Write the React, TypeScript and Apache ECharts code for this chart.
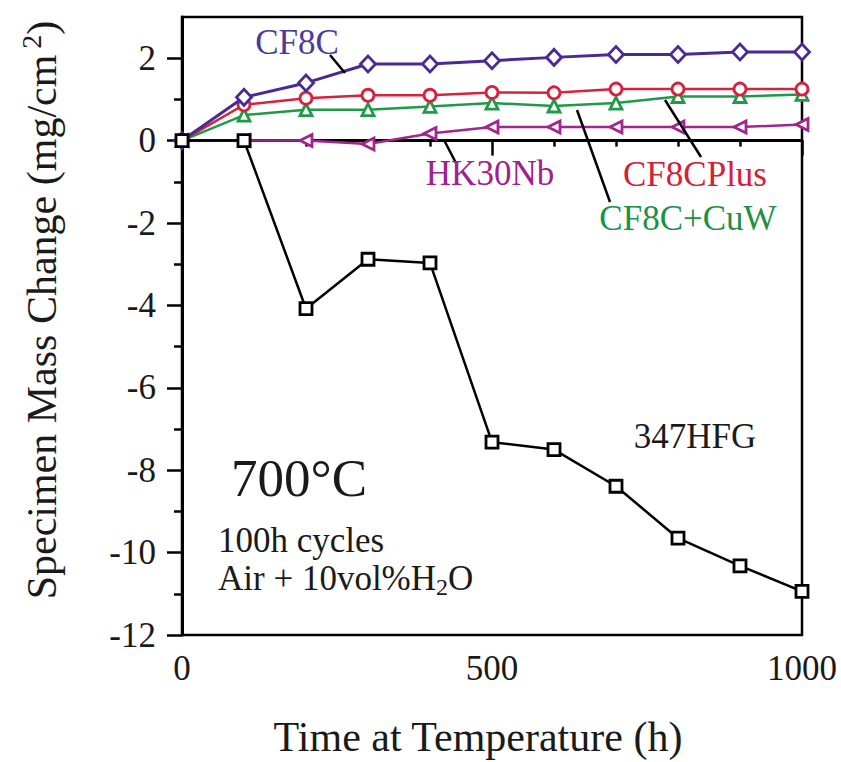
import React, { useEffect, useRef } from "react";
import * as echarts from "echarts";

const times = [0, 100, 200, 300, 400, 500, 600, 700, 800, 900, 1000];
const cf8c = [0, 1.05, 1.4, 1.86, 1.86, 1.94, 2.02, 2.09, 2.09, 2.15, 2.15];
const cf8cPlus = [0, 0.87, 1.03, 1.1, 1.1, 1.17, 1.16, 1.25, 1.25, 1.25, 1.25];
const cf8cCuW = [0, 0.62, 0.75, 0.75, 0.83, 0.91, 0.84, 0.91, 1.07, 1.07, 1.12];
const hk30nb = [0, 0, 0, -0.08, 0.17, 0.33, 0.33, 0.33, 0.33, 0.33, 0.39];
const hfg347 = [0, 0, -4.08, -2.88, -2.97, -7.32, -7.5, -8.39, -9.65, -10.32, -10.94];

const yMajor = [-12, -10, -8, -6, -4, -2, 0, 2];
const yMinor = [-11, -9, -7, -5, -3, -1, 1];

const FONT = "'Liberation Serif', 'Times New Roman', serif";

const zip = (ys: number[]) => times.map((t, i) => [t, ys[i]]);

export default function App() {
  const ref = useRef<HTMLDivElement>(null);
  useEffect(() => {
    if (!ref.current) return;
    document.body.style.margin = "0";
    document.body.style.overflow = "hidden";
    const chart = echarts.init(ref.current, undefined, { renderer: "svg" });
    const mk = (
      name: string,
      ys: number[],
      color: string,
      symbol: string,
      size: number | number[],
      lw: number,
      z: number,
      rotate = 0
    ) => ({
      name,
      type: "line",
      data: zip(ys),
      symbol,
      symbolSize: size,
      symbolRotate: rotate,
      showSymbol: true,
      z,
      lineStyle: { color, width: lw },
      itemStyle: { color: "#ffffff", borderColor: color, borderWidth: 2.8 },
    });
    chart.setOption({
      animation: false,
      backgroundColor: "#ffffff",
      grid: {
        left: 182,
        right: 39,
        top: 17,
        bottom: 127,
        show: true,
        borderColor: "#000",
        borderWidth: 2.5,
        backgroundColor: "transparent",
      },
      xAxis: {
        type: "value",
        min: 0,
        max: 1000,
        interval: 500,
        axisLine: { show: true, lineStyle: { color: "#000", width: 3 } },
        axisTick: { show: true, inside: false, length: 15, lineStyle: { color: "#000", width: 2.5 } },
        minorTick: { show: true, splitNumber: 5, length: 6, lineStyle: { color: "#000", width: 2.5 } },
        splitLine: { show: false },
        minorSplitLine: { show: false },
        axisLabel: {
          fontFamily: FONT,
          fontSize: 35,
          color: "#1a1a1a",
          margin: 16,
          hideOverlap: false,
          formatter: (v: number) => String(v),
        },
      },
      yAxis: [
        {
          type: "value",
          min: -12,
          max: 3,
          interval: 1,
          position: "left",
          axisLine: { show: true, lineStyle: { color: "#000", width: 3 } },
          axisTick: {
            show: true,
            inside: false,
            length: 15,
            customValues: yMajor,
            lineStyle: { color: "#000", width: 2.5 },
          },
          splitLine: { show: false },
          axisLabel: {
            fontFamily: FONT,
            fontSize: 35,
            color: "#1a1a1a",
            margin: 26,
            customValues: yMajor,
            formatter: (v: number) => String(v),
          },
        },
        {
          type: "value",
          min: -12,
          max: 3,
          interval: 1,
          position: "left",
          axisLine: { show: false },
          axisTick: {
            show: true,
            inside: false,
            length: 8,
            customValues: yMinor,
            lineStyle: { color: "#000", width: 2.5 },
          },
          splitLine: { show: false },
          axisLabel: { show: false },
        },
      ],
      series: [
        mk("HK30Nb", hk30nb, "#a3238f", "triangle", 12, 2.5, 2, 90),
        mk("CF8C+CuW", cf8cCuW, "#1f9a48", "triangle", 12, 2.5, 3),
        mk("CF8CPlus", cf8cPlus, "#d8213c", "circle", 12, 2.5, 4),
        mk("CF8C", cf8c, "#4a2895", "diamond", [15, 16], 3, 5),
        mk("347HFG", hfg347, "#000000", "rect", 12, 2.5, 6),
      ],
      graphic: [
        { type: "line", shape: { x1: 330, y1: 55, x2: 345, y2: 73 }, style: { stroke: "#000", lineWidth: 2.5 }, z: 10 },
        { type: "line", shape: { x1: 444, y1: 140, x2: 456, y2: 163 }, style: { stroke: "#000", lineWidth: 2.5 }, z: 10 },
        { type: "line", shape: { x1: 665, y1: 100, x2: 701, y2: 157 }, style: { stroke: "#000", lineWidth: 2.5 }, z: 10 },
        { type: "line", shape: { x1: 577, y1: 110, x2: 610, y2: 202 }, style: { stroke: "#000", lineWidth: 2.5 }, z: 10 },
        {
          type: "text", x: 297, y: 42, z: 10,
          style: { text: "CF8C", font: `35px ${FONT}`, fill: "#4b3a9a", align: "center", verticalAlign: "middle" },
        },
        {
          type: "text", x: 490, y: 173, z: 10,
          style: { text: "HK30Nb", font: `35px ${FONT}`, fill: "#a0208c", align: "center", verticalAlign: "middle" },
        },
        {
          type: "text", x: 695, y: 174, z: 10,
          style: { text: "CF8CPlus", font: `35px ${FONT}`, fill: "#d42035", align: "center", verticalAlign: "middle" },
        },
        {
          type: "text", x: 688, y: 218, z: 10,
          style: { text: "CF8C+CuW", font: `35px ${FONT}`, fill: "#1d9146", align: "center", verticalAlign: "middle" },
        },
        {
          type: "text", x: 695, y: 436, z: 10,
          style: { text: "347HFG", font: `35px ${FONT}`, fill: "#1a1a1a", align: "center", verticalAlign: "middle" },
        },
        {
          type: "text", x: 299, y: 478, z: 10,
          style: { text: "700°C", font: `53px ${FONT}`, fill: "#1a1a1a", align: "center", verticalAlign: "middle" },
        },
        {
          type: "text", x: 218, y: 540, z: 10,
          style: { text: "100h cycles", font: `35px ${FONT}`, fill: "#1a1a1a", align: "left", verticalAlign: "middle" },
        },
        {
          type: "text", x: 218, y: 578, z: 10,
          style: {
            text: "Air + 10vol%H{sub|2}O",
            font: `35px ${FONT}`,
            fontFamily: FONT,
            fontSize: 35,
            fill: "#1a1a1a",
            align: "left",
            verticalAlign: "middle",
            rich: { sub: { fontFamily: FONT, fontSize: 24, padding: [18, 0, 0, 0], fill: "#1a1a1a" } },
          },
        },
        {
          type: "text", x: 478, y: 737, z: 10,
          style: { text: "Time at Temperature (h)", font: `42px ${FONT}`, fill: "#1a1a1a", align: "center", verticalAlign: "middle" },
        },
        {
          type: "text", x: 42, y: 310, rotation: Math.PI / 2, z: 10,
          style: {
            text: "Specimen Mass Change (mg/cm{sup|2})",
            font: `42px ${FONT}`,
            fontFamily: FONT,
            fontSize: 42,
            fill: "#1a1a1a",
            align: "center",
            verticalAlign: "middle",
            rich: { sup: { fontFamily: FONT, fontSize: 28, padding: [0, 0, 22, 6], fill: "#1a1a1a" } },
          },
        },
      ],
    });
    return () => chart.dispose();
  }, []);
  return <div ref={ref} style={{ position: "fixed", left: 0, top: 0, width: 841, height: 762 }} />;
}
